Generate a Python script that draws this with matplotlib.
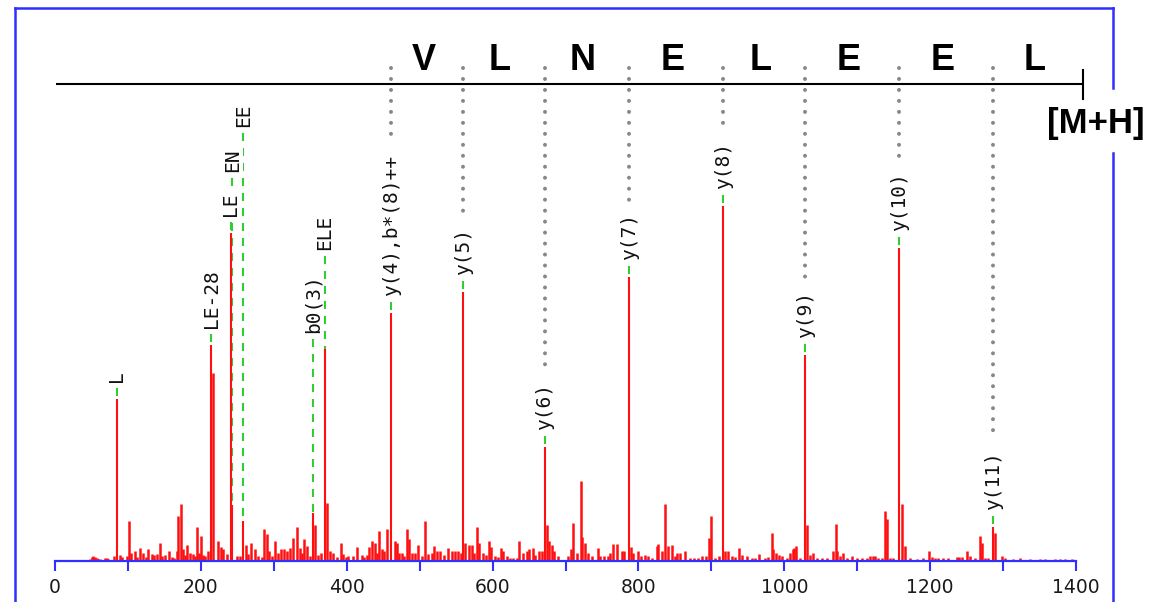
import matplotlib
matplotlib.use("Agg")
import matplotlib.pyplot as plt
from matplotlib.lines import Line2D

plt.rcParams['lines.scale_dashes'] = False

# ---------------------------------------------------------------- data ----
# unlabelled spectrum peaks: m/z and relative intensity (%)
noise_mz = [
    48, 50.3, 52.5, 54.8, 57.2, 59.4, 61.7, 68.6, 70.9, 73.1, 81.3, 89.1, 91.4,
    98.3, 101, 103.8, 109.7, 112.9, 116.5, 120.2, 124.3, 127.9, 132.6, 135.7,
    139.4, 144, 147.1, 150.8, 156.3, 160, 163.2, 166.9, 169.1, 172.4, 175.1,
    177.8, 180.6, 185.1, 188.8, 191.5, 194.3, 197, 199.8, 202.5, 205.7, 210.2,
    216.6, 223.9, 227.2, 230.8, 235.4,
    249.1, 253.7, 261.5, 265.1, 268.8, 274.2, 278.8, 283.4, 287.0, 290.3, 293.9,
    297.1, 301.7, 306.2, 309.9, 314.5, 317.7, 322.2, 326.8, 331.4, 335.9, 339.1,
    341.8, 345.1, 349.6, 356.5, 361.0, 364.7, 372.6, 377.1, 381.6, 386.3, 392.2,
    395.3, 398.6, 402.2, 409.0, 414.5, 420.5, 424.1, 427.4, 431.0, 434.2, 438.8,
    441.5, 444.3, 447.9, 451.5, 455.6, 466.2, 469.4, 472.1, 475.4,
    478.5, 482.2, 485.4, 489.1, 493.6, 498.2, 502.8, 507.3, 511.9, 516.5, 520.1,
    523.4, 527.9, 533.4, 539.3, 543.9, 548.5, 553.0, 556.3, 562.2, 568.1, 571.4,
    574.5, 579.1, 581.8, 587.3, 591.0, 595.1, 597.4, 603.3, 607.0, 611.5, 614.7,
    619.4, 623.9, 628.4, 633.1, 636.6, 642.1, 646.8, 650.3, 655.0, 658.2, 664.1,
    667.4, 674.2, 677.4, 681.1, 684.2, 690.1, 703.8, 707.1, 710.7, 715.3,
    721.2, 723.0, 726.7, 730.4, 735.9, 744.1, 747.3, 753.2, 758.7, 761.0, 765.5,
    770.2, 777.0, 780.2, 789.8, 793.0, 798.9, 803.1, 809.0, 813.5, 818.2, 825.1,
    827.2, 831.9, 836.4, 840.9, 845.6, 850.1, 852.5, 857.0, 863.8, 870.7, 876.6,
    882.1, 886.7, 892.6, 896.8, 899.5, 905.0, 910.5, 918.7, 923.2, 927.9, 932.4,
    938.3, 941.6, 948.4, 955.3,
    959.8, 965.7, 973.5, 978.1, 982.7, 984.9, 988.6, 993.2, 996.4, 1003.3,
    1007.8, 1011.5, 1013.7, 1016.0, 1021.5, 1031.6, 1035.2, 1039.8, 1044.4,
    1051.3, 1058.2, 1066.4, 1070.5, 1072.7, 1076.4, 1081.0, 1085.6, 1092.4,
    1099.3, 1106.1, 1113.0, 1117.5, 1121.2, 1124.4, 1128.9, 1133.5, 1138.1,
    1140.4, 1144.9, 1149.5, 1161.0, 1165.5, 1172.4, 1181.5, 1190.6,
    1198.4, 1202.1, 1206.6, 1211.2, 1218.0, 1224.9, 1236.3, 1239.9, 1243.2,
    1250.9, 1254.6, 1261.5, 1268.3, 1270.6, 1275.2, 1279.7, 1288.9, 1299.0,
    1302.6, 1314.0, 1323.2, 1336.9, 1350.6, 1357.5, 1371.2, 1378.1, 1384.9,
    1394.1,
]
noise_int = [
    0.6, 1.1, 1.4, 1.1, 0.8, 0.6, 0.6, 0.8, 0.8, 0.6, 1.4, 1.7, 1.1,
    1.4, 11.3, 2.3, 2.8, 1.1, 3.7, 2.3, 1.1, 3.4, 2.0, 1.7,
    2.0, 5.1, 1.4, 1.7, 2.8, 1.1, 0.8, 2.8, 12.7, 16.1, 3.4,
    1.7, 4.5, 2.3, 2.0, 1.4, 9.6, 2.3, 7.0, 1.7, 1.4, 2.8,
    53.0, 5.6, 3.9, 3.4, 2.0,
    1.4, 1.4, 4.5, 2.0, 5.1, 3.4, 1.4, 1.1, 9.0, 7.6, 2.8,
    1.4, 5.6, 2.3, 3.4, 3.4, 2.8, 3.7, 6.5, 9.6, 3.7, 2.3,
    6.2, 4.2, 1.4, 10.1, 1.7, 2.3, 16.3, 2.8, 2.3, 1.1, 5.1,
    2.0, 1.1, 1.4, 1.4, 3.9, 1.7, 1.1, 1.7, 3.9, 5.6, 5.1,
    2.3, 8.5, 3.4, 2.8, 9.0, 5.6, 5.1, 2.3, 2.3,
    1.4, 9.0, 6.2, 2.3, 2.3, 4.5, 1.4, 11.3, 2.0, 2.3, 4.2,
    2.8, 2.8, 1.7, 3.7, 2.8, 2.8, 2.8, 2.3, 5.1, 4.5, 4.5,
    2.3, 9.6, 5.1, 2.3, 1.7, 5.6, 3.9, 1.4, 1.1, 3.7, 2.8,
    1.4, 0.8, 0.8, 0.8, 5.6, 2.3, 2.8, 3.4, 3.7, 1.7, 2.8,
    2.8, 10.1, 5.6, 4.5, 2.8, 1.4, 1.4, 3.4, 10.7, 2.3,
    22.5, 6.8, 5.1, 2.3, 1.4, 3.7, 1.4, 1.4, 1.4, 2.3, 4.8,
    4.8, 2.8, 2.8, 3.9, 2.3, 2.8, 1.4, 1.7, 1.4, 0.8, 4.2,
    4.8, 2.8, 16.1, 4.2, 4.5, 1.4, 2.3, 2.3, 2.8, 0.8, 0.8,
    0.8, 1.4, 1.4, 6.5, 12.7, 0.8, 1.4, 2.8, 2.8, 1.4, 1.1,
    3.7, 1.7, 1.4, 0.8,
    0.8, 2.0, 0.8, 1.1, 7.9, 3.4, 2.3, 1.7, 1.4, 0.8,
    2.3, 3.4, 3.7, 4.2, 0.8, 10.1, 1.7, 2.3, 0.8,
    0.8, 0.8, 2.8, 10.4, 2.8, 1.4, 2.3, 0.8, 1.4,
    0.8, 0.8, 0.8, 1.4, 1.4, 1.4, 0.8, 0.8, 14.1,
    11.8, 0.8, 0.8, 16.1, 4.2, 0.8, 0.6, 0.8,
    2.8, 1.1, 0.8, 0.8, 0.8, 0.8, 1.1, 1.1, 1.1,
    2.8, 1.4, 0.8, 7.0, 5.1, 0.8, 0.8, 7.9, 1.4,
    0.8, 0.6, 0.8, 0.6, 0.6, 0.6, 0.6, 0.6, 0.6,
    0.6,
]

# assigned fragment peaks
frag_labels = ['L', 'LE-28', 'LE', 'EN', 'EE', 'b0(3)', 'ELE',
               'y(4),b*(8)++', 'y(5)', 'y(6)', 'y(7)', 'y(8)', 'y(9)',
               'y(10)', 'y(11)']
frag_mz = [85, 214, 241, 243, 258, 354, 370,
           461.2, 559.9, 671.5, 787.5, 916.4, 1028.8, 1157.7, 1286.6]
frag_int = [45.6, 60.8, 92.4, 15.8, 11.3, 13.5, 59.7,
            69.9, 75.8, 32.1, 80.0, 100.0, 58.0, 88.2, 9.6]

# sequence ruler: y-ion ladder boundaries, residues between them, precursor
ladder_ions = ['y(4),b*(8)++', 'y(5)', 'y(6)', 'y(7)', 'y(8)', 'y(9)',
               'y(10)', 'y(11)']
residues = ['V', 'L', 'N', 'E', 'L', 'E', 'E', 'L']
precursor_mz = 1410
precursor_label = '[M+H]'

xtick_major = [0, 200, 400, 600, 800, 1000, 1200, 1400]
xtick_minor = [100, 300, 500, 700, 900, 1100, 1300]

# ------------------------------------------------------------- styling ----
W, H, DPI = 1151, 602, 100
BLUE = '#2f2fff'
RED = '#ff1010'
GREEN = '#33cc33'
GREY = '#888888'
X0, X1, YB = 55, 1076, 561          # axis pixel extents
PX_PER_UNIT = 3.55                  # pixels per % intensity
MZ_PER_PX = 1400 / (X1 - X0)

fig = plt.figure(figsize=(W / DPI, H / DPI), dpi=DPI)
fig.patch.set_facecolor('white')
ax = fig.add_axes([X0 / W, (H - YB) / H, (X1 - X0) / W, YB / H])
ax.set_xlim(0, 1400)
ax.set_ylim(0, YB / PX_PER_UNIT)
ax.patch.set_alpha(0)
for side in ('top', 'left', 'right'):
    ax.spines[side].set_visible(False)
ax.spines['bottom'].set_color(BLUE)
ax.spines['bottom'].set_linewidth(1.6)
ax.spines['bottom'].set_zorder(5)
ax.set_yticks([])
ax.set_xticks(xtick_major)
ax.set_xticks(xtick_minor, minor=True)
ax.tick_params(axis='x', which='both', direction='out', length=7.5,
               width=1.5, color=BLUE)
ax.tick_params(axis='x', which='major', labelsize=13.5,
               labelcolor='#1a1a1a', pad=4.5)


def px(v):
    """pixel distance -> intensity units"""
    return v / PX_PER_UNIT


# spectrum sticks
ax.vlines(noise_mz, 0, noise_int, colors=RED, lw=1.8, zorder=3)
ax.vlines(frag_mz, 0, frag_int, colors=RED, lw=1.5, zorder=3)

# labels lifted above the crowded low-mass region
label_start = {'EN': px(YB - 172), 'EE': px(YB - 127),
               'b0(3)': px(YB - 333), 'ELE': px(YB - 250)}

texts = {}
for mz, inten, lab in zip(frag_mz, frag_int, frag_labels):
    y0 = label_start.get(lab, inten + px(17))
    texts[lab] = ax.text(mz, y0, lab, rotation=90, ha='center', va='bottom',
                         family='DejaVu Sans Mono', fontsize=14,
                         color='#111111', zorder=6,
                         bbox=dict(boxstyle='square,pad=0.05', fc='white',
                                   ec='none'))
    ax.plot([mz, mz], [y0, inten], color=GREEN, lw=1.5,
            ls=(6.5, (5.8, 5.0)), zorder=2)

# sequence ruler
ruler_y = px(YB - 84)
ax.plot([2, precursor_mz], [ruler_y, ruler_y], color='black', lw=1.5,
        zorder=4, clip_on=False, solid_capstyle='butt')
ax.plot([precursor_mz, precursor_mz], [px(YB - 99), px(YB - 70)],
        color='black', lw=1.5, zorder=4, clip_on=False)

ladder_mz = [frag_mz[frag_labels.index(ion)] for ion in ladder_ions]
bounds = ladder_mz + [precursor_mz]
for left, right, res in zip(bounds[:-1], bounds[1:], residues):
    ax.text((left + right) / 2 - 4 * MZ_PER_PX, px(YB - 70), res,
            ha='center', va='baseline', family='Liberation Sans',
            fontweight='bold', fontsize=26, color='black', zorder=6)

# dotted drop lines from the ruler to each ladder ion label
fig.canvas.draw()
renderer = fig.canvas.get_renderer()
inv = ax.transData.inverted()
for ion, mz in zip(ladder_ions, ladder_mz):
    bb = texts[ion].get_window_extent(renderer)
    y_top_label = inv.transform((0, bb.y1))[1]
    ax.plot([mz, mz], [px(YB - 68), y_top_label + px(12)], color=GREY,
            lw=2.9, ls=(0, (0.001, 7.9)), dash_capstyle='round', zorder=2)

# outer frame (interrupted on the right by the precursor label)
frame = [([15, 15], [H + 5, 8]), ([15, 1113], [8, 8]),
         ([1113, 1113], [8, 88]), ([1113, 1113], [153, H + 5])]
for xs, ys in frame:
    fig.add_artist(Line2D([x / W for x in xs], [1 - y / H for y in ys],
                          transform=fig.transFigure, color=BLUE, lw=1.8))

fig.text(1096 / W, 1 - 133 / H, precursor_label, ha='center', va='baseline',
         family='Liberation Sans', fontweight='bold', fontsize=25,
         color='black')

fig.savefig('out.png', dpi=DPI, facecolor='white')
